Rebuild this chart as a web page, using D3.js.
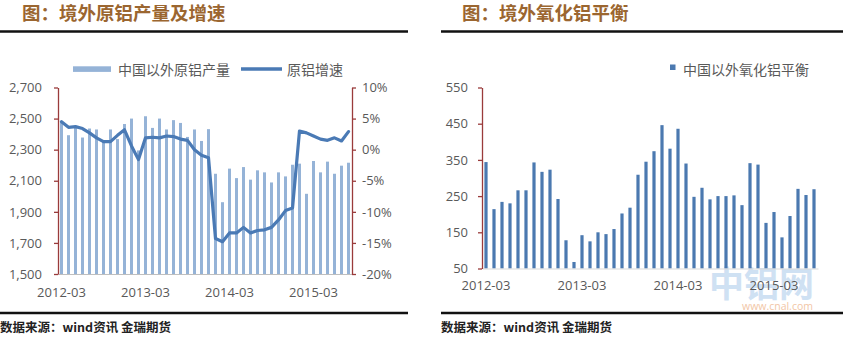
<!DOCTYPE html>
<html>
<head>
<meta charset="utf-8">
<script src="https://cdn.jsdelivr.net/npm/d3@7"></script>
<style>
  html, body { margin: 0; padding: 0; background: #fff; }
  svg { display: block; }
</style>
</head>
<body>
<svg id="chart" width="843" height="339"></svg>
<script>
// ---------- DATA ----------
const months = [
  "2012-03","2012-04","2012-05","2012-06","2012-07","2012-08","2012-09","2012-10","2012-11","2012-12",
  "2013-01","2013-02","2013-03","2013-04","2013-05","2013-06","2013-07","2013-08","2013-09","2013-10",
  "2013-11","2013-12","2014-01","2014-02","2014-03","2014-04","2014-05","2014-06","2014-07","2014-08",
  "2014-09","2014-10","2014-11","2014-12","2015-01","2015-02","2015-03","2015-04","2015-05","2015-06",
  "2015-07","2015-08"
];
const xTickLabels = ["2012-03","2013-03","2014-03","2015-03"];

// left chart: 中国以外原铝产量 (bars, left axis) and 原铝增速 (line, right axis, %)
const production = [2485,2393,2440,2378,2436,2430,2360,2430,2368,2465,2500,2295,2515,2440,2500,2430,2490,2472,2382,2430,2356,2432,2145,1962,2178,2117,2188,2107,2167,2154,2089,2154,2128,2203,2210,2016,2227,2154,2223,2145,2197,2216];
const growth = [4.5,3.6,3.7,3.4,2.7,1.9,1.3,1.3,2.3,3.2,0.6,-1.6,1.9,2.0,1.9,2.2,2.1,1.7,1.5,0.0,-0.9,-1.3,-14.3,-14.8,-13.4,-13.4,-12.5,-13.4,-13.0,-12.9,-12.5,-11.3,-9.8,-9.4,3.0,2.7,2.2,1.7,1.5,1.9,1.4,2.9];
const leftTicks = [1500,1700,1900,2100,2300,2500,2700];
const rightTicks = [-20,-15,-10,-5,0,5,10];

// right chart: 中国以外氧化铝平衡
const aluminaBalance = [344,214,234,230,266,266,343,317,323,242,128,68,142,125,150,145,159,202,218,309,345,374,446,381,436,340,248,273,241,250,250,252,225,341,337,176,206,136,195,270,253,269];
const balanceTicks = [50,150,250,350,450,550];

const titleLeft = "图：境外原铝产量及增速";
const titleRight = "图：境外氧化铝平衡";
const legendBar = "中国以外原铝产量";
const legendLine = "原铝增速";
const legendRight = "中国以外氧化铝平衡";
const source = "数据来源：wind资讯 金瑞期货";

// ---------- STYLE ----------
const CJK = "'Noto Sans CJK SC', 'Noto Sans', sans-serif";
const NUM = "'Open Sans', 'Noto Sans', sans-serif";
const textGray = "#595959";
const axisRed = "#9a3b3b";
const titleBrown = "#9b6630";
const lightBar = "#95b3d7";
const lineBlue = "#4a7ab5";
const darkBar = "#4b79b0";

const svg = d3.select("#chart");

function header(x0, x1, tx, title) {
  svg.append("text").attr("x", tx).attr("y", 20)
    .attr("font-family", CJK).attr("font-weight", "bold").attr("font-size", 18.5)
    .attr("fill", titleBrown).text(title);
  svg.append("line").attr("x1", x0).attr("x2", x1).attr("y1", 31.5).attr("y2", 31.5)
    .attr("stroke", "#111").attr("stroke-width", 2.6);
  svg.append("line").attr("x1", x0).attr("x2", x1).attr("y1", 313).attr("y2", 313)
    .attr("stroke", "#111").attr("stroke-width", 2.6);
  svg.append("text").attr("x", x0).attr("y", 332)
    .attr("font-family", CJK).attr("font-weight", "bold").attr("font-size", 12.5)
    .attr("fill", "#222").text(source);
}

// ---------- LEFT CHART ----------
header(0, 408, 22, titleLeft);
{
  const x = d3.scaleBand().domain(months).range([58, 352]).paddingInner(4/7).paddingOuter(2/7);
  const yL = d3.scaleLinear().domain([1500, 2700]).range([274, 87.5]);
  const yR = d3.scaleLinear().domain([-20, 10]).range([274, 87.5]);

  // bars
  svg.append("g").selectAll("rect").data(production).join("rect")
    .attr("x", (d, i) => x(months[i]))
    .attr("width", x.bandwidth())
    .attr("y", d => yL(d))
    .attr("height", d => yL(1500) - yL(d))
    .attr("fill", lightBar);

  // x axis
  const xAxis = d3.axisBottom(x).tickValues(xTickLabels).tickSize(0).tickPadding(14);
  const gx = svg.append("g").attr("transform", "translate(0,274)").call(xAxis);
  gx.select(".domain").attr("stroke", "#bfbfbf");
  gx.selectAll("text").attr("font-family", NUM).attr("font-size", 13).attr("fill", textGray);

  // left axis
  const gl = svg.append("g").attr("transform", "translate(58,0)")
    .call(d3.axisLeft(yL).tickValues(leftTicks).tickFormat(d3.format(",")).tickSize(4).tickSizeOuter(0).tickPadding(12));
  gl.selectAll("path,line").attr("stroke", axisRed).attr("stroke-width", 1.3);
  gl.selectAll("text").attr("font-family", NUM).attr("font-size", 13).attr("fill", textGray);

  // right axis
  const gr = svg.append("g").attr("transform", "translate(352,0)")
    .call(d3.axisRight(yR).tickValues(rightTicks).tickFormat(d => d + "%").tickSize(4).tickSizeOuter(0).tickPadding(6));
  gr.selectAll("path,line").attr("stroke", axisRed).attr("stroke-width", 1.3);
  gr.selectAll("text").attr("font-family", NUM).attr("font-size", 13).attr("fill", textGray);

  // line
  const line = d3.line()
    .x((d, i) => x(months[i]) + x.bandwidth() / 2)
    .y(d => yR(d));
  svg.append("path").datum(growth).attr("d", line)
    .attr("fill", "none").attr("stroke", lineBlue).attr("stroke-width", 3.2)
    .attr("stroke-linejoin", "round").attr("stroke-linecap", "round");

  // legend
  svg.append("rect").attr("x", 73).attr("y", 66.3).attr("width", 38).attr("height", 5.6).attr("fill", lightBar);
  svg.append("text").attr("x", 118).attr("y", 74.5).attr("font-family", CJK).attr("font-size", 14)
    .attr("fill", textGray).text(legendBar);
  svg.append("line").attr("x1", 241).attr("x2", 282).attr("y1", 69).attr("y2", 69)
    .attr("stroke", lineBlue).attr("stroke-width", 3.5);
  svg.append("text").attr("x", 287).attr("y", 74.5).attr("font-family", CJK).attr("font-size", 14)
    .attr("fill", textGray).text(legendLine);
}

// ---------- RIGHT CHART ----------
header(441, 843, 462, titleRight);
{
  // watermark (sits behind the axis labels, as in the reference)
  svg.append("text").attr("x", 709).attr("y", 297).attr("font-family", CJK).attr("font-weight", "bold")
    .attr("font-size", 35).attr("fill", "#cfe1f3").text("中铝网");
  svg.append("text").attr("x", 742).attr("y", 310).attr("font-family", NUM)
    .attr("font-size", 10.5).attr("fill", "#f2c6a6").text("www.cnal.com");

  const x = d3.scaleBand().domain(months).range([482, 818]).paddingInner(0.6).paddingOuter(0.3);
  const y = d3.scaleLinear().domain([50, 550]).range([268.5, 87.5]);

  svg.append("g").selectAll("rect").data(aluminaBalance).join("rect")
    .attr("x", (d, i) => x(months[i]))
    .attr("width", x.bandwidth())
    .attr("y", d => y(d))
    .attr("height", d => y(50) - y(d))
    .attr("fill", darkBar);

  const xAxis = d3.axisBottom(x).tickValues(xTickLabels).tickSize(0).tickPadding(12);
  const gx = svg.append("g").attr("transform", "translate(0,268.5)").call(xAxis);
  gx.select(".domain").attr("stroke", "#d9d9d9");
  gx.selectAll("text").attr("font-family", NUM).attr("font-size", 13).attr("fill", textGray);

  const gl = svg.append("g").attr("transform", "translate(482,0)")
    .call(d3.axisLeft(y).tickValues(balanceTicks).tickSize(4).tickSizeOuter(0).tickPadding(10));
  gl.selectAll("path,line").attr("stroke", axisRed).attr("stroke-width", 1.3);
  gl.selectAll("text").attr("font-family", NUM).attr("font-size", 13).attr("fill", textGray);

  svg.append("rect").attr("x", 670).attr("y", 64.5).attr("width", 5.5).attr("height", 5.5).attr("fill", darkBar);
  svg.append("text").attr("x", 683).attr("y", 74.5).attr("font-family", CJK).attr("font-size", 14)
    .attr("fill", textGray).text(legendRight);
}
</script>
</body>
</html>
